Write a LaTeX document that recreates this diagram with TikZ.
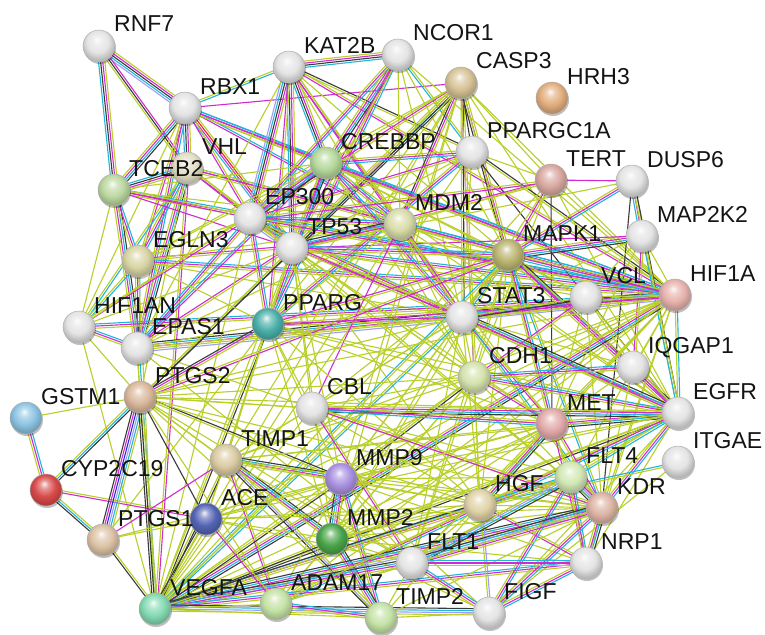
\documentclass[tikz,border=0pt]{standalone}
\usepackage{fontspec}
\setmainfont{Liberation Sans}
\usetikzlibrary{calc,shadows}
\pgfdeclarelayer{bg}
\pgfdeclarelayer{edges}
\pgfsetlayers{bg,edges,main}
\makeatletter
\pgfdeclareradialshading[tikz@ball]{sball}{\pgfqpoint{-3bp}{10bp}}{%
 color(0bp)=(tikz@ball!8!white);
 color(7bp)=(tikz@ball!60!white);
 color(17bp)=(tikz@ball);
 color(26bp)=(tikz@ball!82!black);
 color(50bp)=(tikz@ball!65!black)}
\makeatother
\definecolor{tm}{HTML}{B9CF2A}
\definecolor{ex}{HTML}{D02BD0}
\definecolor{db}{HTML}{22B5DA}
\definecolor{co}{HTML}{3A3A3A}
\definecolor{hm}{HTML}{9E9EF5}
\definecolor{cr}{HTML}{2B2BD6}
\definecolor{fu}{HTML}{E02828}
\definecolor{wh}{HTML}{E4E4E4}
\definecolor{cVHL}{HTML}{E2DEC4}
\definecolor{cCASP3}{HTML}{D6C296}
\definecolor{cHRH3}{HTML}{E2AE7E}
\definecolor{cCREBBP}{HTML}{B4D89A}
\definecolor{cTERT}{HTML}{D8A8A0}
\definecolor{cTCEB2}{HTML}{BCD8A0}
\definecolor{cMDM2}{HTML}{D8DCA8}
\definecolor{cEGLN3}{HTML}{D8D4A4}
\definecolor{cMAPK1}{HTML}{BAB470}
\definecolor{cHIF1A}{HTML}{E6B2AC}
\definecolor{cPPARG}{HTML}{4AAFA8}
\definecolor{cCDH1}{HTML}{D4E2AC}
\definecolor{cGSTM1}{HTML}{8CC4E2}
\definecolor{cPTGS2}{HTML}{DAB89C}
\definecolor{cMET}{HTML}{E2AAAA}
\definecolor{cTIMP1}{HTML}{DACBA2}
\definecolor{cMMP9}{HTML}{A890E0}
\definecolor{cFLT4}{HTML}{D2E8B4}
\definecolor{cCYP}{HTML}{D84A4A}
\definecolor{cACE}{HTML}{5464B4}
\definecolor{cHGF}{HTML}{E0D2A8}
\definecolor{cKDR}{HTML}{DCB4A4}
\definecolor{cPTGS1}{HTML}{DCC2A4}
\definecolor{cMMP2}{HTML}{48A448}
\definecolor{cVEGFA}{HTML}{84DAB2}
\definecolor{cADAM17}{HTML}{C4E2A6}
\definecolor{cTIMP2}{HTML}{C4E2A6}
\tikzset{
 prot/.style={circle, minimum size=32pt, inner sep=0pt, ball color=#1, shading=sball,
   draw=black!30, line width=0.5pt,
   drop shadow={shadow xshift=1pt, shadow yshift=-2pt, opacity=0.25, fill=black}},
 lab/.style={anchor=base west, inner sep=0pt, text=black!92,
   font=\fontsize{23}{27}\selectfont},
 edgeline/.style={line width=1.1pt}
}
\newcommand\Pn[4]{%
 \node[prot=#4] (#1) at (#2,#3) {};
 \node[lab] (l#1) at ($(#1)+(15,-14)$) {#1};}
\newcommand\E[3]{%
 \foreach \c [count=\i] in {#3}{%
  \pgfmathsetmacro\o{ifthenelse(mod(\i,2)==0,1,-1)*floor(\i/2)*2.1}%
  \draw[edgeline, draw=\c] ($(#1)!\o pt!90:(#2)$) -- ($(#2)!\o pt!-90:(#1)$);
 }}
\begin{document}
\begin{tikzpicture}[x=1pt,y=-1pt]
\begin{pgfonlayer}{bg}
\fill[white] (0,0) rectangle (765,634);
\end{pgfonlayer}
\useasboundingbox (0,0) rectangle (765,634);
% ---------------- nodes ----------------
\Pn{RNF7}{99}{46}{wh}
\Pn{RBX1}{185}{108}{wh}
\Pn{VHL}{187}{168}{cVHL}
\Pn{KAT2B}{289}{67}{wh}
\Pn{NCOR1}{398}{55}{wh}
\Pn{CASP3}{461}{83}{cCASP3}
\Pn{HRH3}{552}{98}{cHRH3}
\Pn{CREBBP}{326}{163}{cCREBBP}
\Pn{PPARGC1A}{472}{152}{wh}
\Pn{TERT}{551}{180}{cTERT}
\Pn{DUSP6}{632}{181}{wh}
\Pn{TCEB2}{114}{190}{cTCEB2}
\Pn{EP300}{250}{218}{wh}
\Pn{MDM2}{400}{224}{cMDM2}
\Pn{MAP2K2}{642}{236}{wh}
\Pn{TP53}{292}{248}{wh}
\Pn{EGLN3}{138}{261}{cEGLN3}
\Pn{MAPK1}{508}{255}{cMAPK1}
\Pn{HIF1A}{675}{295}{cHIF1A}
\Pn{VCL}{586}{297}{wh}
\Pn{HIF1AN}{79}{327}{wh}
\Pn{PPARG}{268}{324}{cPPARG}
\Pn{STAT3}{462}{317}{wh}
\Pn{EPAS1}{137}{348}{wh}
\Pn{IQGAP1}{633}{367}{wh}
\Pn{CDH1}{474}{377}{cCDH1}
\Pn{GSTM1}{26}{418}{cGSTM1}
\Pn{PTGS2}{140}{397}{cPTGS2}
\Pn{CBL}{312}{408}{wh}
\Pn{MET}{552}{424}{cMET}
\Pn{EGFR}{678}{413}{wh}
\Pn{TIMP1}{226}{460}{cTIMP1}
\Pn{MMP9}{341}{479}{cMMP9}
\Pn{FLT4}{571}{477}{cFLT4}
\Pn{ITGAE}{678}{462}{wh}
\Pn{CYP2C19}{46}{490}{cCYP}
\Pn{ACE}{206}{519}{cACE}
\Pn{HGF}{480}{505}{cHGF}
\Pn{KDR}{602}{508}{cKDR}
\Pn{PTGS1}{103}{540}{cPTGS1}
\Pn{MMP2}{332}{539}{cMMP2}
\Pn{NRP1}{586}{563}{wh}
\Pn{FLT1}{412}{563}{wh}
\Pn{VEGFA}{155}{609}{cVEGFA}
\Pn{ADAM17}{276}{604}{cADAM17}
\Pn{FIGF}{489}{613}{wh}
\Pn{TIMP2}{381}{618}{cTIMP2}
% ---------------- edges ----------------
\begin{pgfonlayer}{edges}
% VHL / hypoxia cluster
\E{RNF7}{RBX1}{co,ex,db,tm,hm}
\E{RNF7}{TCEB2}{co,ex,db,tm}
\E{RNF7}{VHL}{co,ex,tm}
\E{RBX1}{VHL}{co,ex,db,tm}
\E{RBX1}{TCEB2}{ex,db,tm,co}
\E{RBX1}{EGLN3}{tm,ex}
\E{RBX1}{TP53}{ex,fu,db,tm}
\E{RBX1}{EP300}{ex,tm}
\E{RBX1}{KAT2B}{db,tm}
\E{RBX1}{CREBBP}{ex,db,tm}
\E{RBX1}{MDM2}{ex,db}
\E{RBX1}{EPAS1}{ex,db,tm}
\E{RBX1}{HIF1A}{ex,db,tm}
\E{RBX1}{HIF1AN}{tm}
\E{RBX1}{CASP3}{ex}
\E{VHL}{TCEB2}{co,ex,db,tm}
\E{VHL}{HIF1A}{ex,db,tm}
\E{VHL}{EPAS1}{ex,db,tm,co}
\E{VHL}{EGLN3}{ex,db,tm}
\E{VHL}{TP53}{ex,tm}
\E{VHL}{EP300}{ex,tm}
\E{VHL}{VEGFA}{tm,ex}
\E{VHL}{HIF1AN}{tm,db}
\E{VHL}{PTGS2}{tm}
\E{VHL}{MDM2}{ex,tm}
\E{TCEB2}{EPAS1}{ex,db,tm,co}
\E{TCEB2}{HIF1A}{ex,db,tm}
\E{TCEB2}{EGLN3}{ex,db,tm}
\E{TCEB2}{HIF1AN}{tm}
\E{TCEB2}{TP53}{ex}
\E{TCEB2}{EP300}{ex,tm}
\E{TCEB2}{MDM2}{tm}
\E{EGLN3}{HIF1A}{ex,db,tm}
\E{EGLN3}{EPAS1}{ex,db,tm}
\E{EGLN3}{HIF1AN}{tm,db}
\E{EGLN3}{VEGFA}{tm}
\E{EGLN3}{TP53}{tm,ex}
\E{EGLN3}{EP300}{tm}
\E{EGLN3}{MDM2}{tm}
\E{EGLN3}{STAT3}{tm}
\E{HIF1AN}{HIF1A}{ex,db,tm}
\E{HIF1AN}{EPAS1}{ex,db,tm}
\E{HIF1AN}{EP300}{ex,tm}
\E{HIF1AN}{CREBBP}{tm}
\E{HIF1AN}{VEGFA}{tm}
\E{HIF1AN}{PTGS2}{tm}
\E{HIF1AN}{TP53}{tm}
\E{EPAS1}{HIF1A}{ex,db,tm,co,hm}
\E{EPAS1}{EP300}{ex,db,tm}
\E{EPAS1}{CREBBP}{ex,db}
\E{EPAS1}{VEGFA}{tm,db}
\E{EPAS1}{PPARG}{tm}
\E{EPAS1}{KDR}{tm}
\E{EPAS1}{FLT1}{tm}
\E{EPAS1}{STAT3}{tm}
\E{EPAS1}{TP53}{tm,ex}
\E{EPAS1}{MDM2}{tm}
% KAT2B / NCOR1
\E{KAT2B}{NCOR1}{co,ex,db,tm}
\E{KAT2B}{EP300}{co,ex,db,tm,hm}
\E{KAT2B}{CREBBP}{co,ex,db,tm}
\E{KAT2B}{TP53}{co,ex,db,tm}
\E{KAT2B}{MDM2}{ex,tm}
\E{KAT2B}{PPARG}{ex,tm}
\E{KAT2B}{STAT3}{ex,tm}
\E{KAT2B}{HIF1A}{ex,tm}
\E{KAT2B}{EPAS1}{tm}
\E{KAT2B}{PPARGC1A}{tm,co}
\E{KAT2B}{MAPK1}{tm}
\E{KAT2B}{CDH1}{tm}
\E{NCOR1}{EP300}{ex,db,tm}
\E{NCOR1}{CREBBP}{ex,db,tm,co}
\E{NCOR1}{PPARG}{ex,db,tm}
\E{NCOR1}{TP53}{ex,tm}
\E{NCOR1}{PPARGC1A}{db,tm}
\E{NCOR1}{STAT3}{tm}
\E{NCOR1}{HIF1A}{tm}
\E{NCOR1}{MDM2}{tm}
\E{NCOR1}{MAPK1}{tm}
% CASP3
\E{CASP3}{TP53}{ex,db,tm,co}
\E{CASP3}{MDM2}{ex,tm,co}
\E{CASP3}{MAPK1}{ex,tm,co}
\E{CASP3}{STAT3}{tm,co}
\E{CASP3}{CDH1}{ex,tm}
\E{CASP3}{MMP9}{tm}
\E{CASP3}{MMP2}{tm}
\E{CASP3}{VEGFA}{tm}
\E{CASP3}{PTGS2}{tm,co}
\E{CASP3}{EGFR}{tm}
\E{CASP3}{MET}{tm}
\E{CASP3}{HGF}{tm}
\E{CASP3}{PPARG}{tm}
\E{CASP3}{EP300}{ex,tm}
\E{CASP3}{HIF1A}{tm}
\E{CASP3}{TERT}{tm}
\E{CASP3}{CREBBP}{tm}
\E{CASP3}{TIMP1}{tm}
\E{CASP3}{EGLN3}{tm}
\E{CASP3}{PPARGC1A}{co}
% PPARGC1A
\E{PPARGC1A}{PPARG}{ex,db,tm}
\E{PPARGC1A}{EP300}{ex,tm}
\E{PPARGC1A}{CREBBP}{ex,db,tm}
\E{PPARGC1A}{TP53}{tm}
\E{PPARGC1A}{HIF1A}{tm,co}
\E{PPARGC1A}{MAPK1}{tm}
\E{PPARGC1A}{VEGFA}{tm}
\E{PPARGC1A}{STAT3}{tm}
\E{PPARGC1A}{TERT}{tm}
\E{PPARGC1A}{EGFR}{co}
% CREBBP
\E{CREBBP}{EP300}{ex,db,tm,co,hm}
\E{CREBBP}{TP53}{ex,db,tm,co}
\E{CREBBP}{MDM2}{ex,db,tm}
\E{CREBBP}{HIF1A}{ex,db,tm}
\E{CREBBP}{STAT3}{ex,db,tm}
\E{CREBBP}{PPARG}{ex,db,tm}
\E{CREBBP}{MAPK1}{tm}
\E{CREBBP}{TCEB2}{tm}
\E{CREBBP}{EGLN3}{tm}
\E{CREBBP}{CDH1}{tm}
\E{CREBBP}{VCL}{tm}
\E{CREBBP}{EGFR}{tm}
% TERT / DUSP6 / MAP2K2
\E{TERT}{TP53}{ex,tm}
\E{TERT}{MDM2}{tm}
\E{TERT}{MAPK1}{ex,tm}
\E{TERT}{HIF1A}{tm}
\E{TERT}{VEGFA}{tm}
\E{TERT}{STAT3}{tm}
\E{TERT}{DUSP6}{ex}
\E{TERT}{EGFR}{tm}
\E{TERT}{MET}{co}
\E{TERT}{CDH1}{tm}
\E{TERT}{EP300}{tm,ex}
\E{DUSP6}{MAPK1}{ex,db,tm}
\E{DUSP6}{MAP2K2}{ex,tm,db}
\E{DUSP6}{EGFR}{tm,co}
\E{DUSP6}{KDR}{co}
\E{DUSP6}{TP53}{tm}
\E{MAP2K2}{MAPK1}{ex,db,tm,co}
\E{MAP2K2}{EGFR}{db,tm}
\E{MAP2K2}{MET}{tm}
\E{MAP2K2}{HIF1A}{tm}
\E{MAP2K2}{STAT3}{tm}
\E{MAP2K2}{TP53}{ex}
\E{MAP2K2}{VCL}{tm}
\E{MAP2K2}{IQGAP1}{ex,tm}
% EP300
\E{EP300}{TP53}{ex,db,tm,co,hm}
\E{EP300}{MDM2}{ex,db,tm}
\E{EP300}{HIF1A}{ex,db,tm}
\E{EP300}{STAT3}{ex,db,tm}
\E{EP300}{PPARG}{ex,db,tm}
\E{EP300}{MAPK1}{tm}
\E{EP300}{EGLN3}{tm}
\E{EP300}{CDH1}{tm}
\E{EP300}{VEGFA}{tm}
\E{EP300}{EGFR}{tm}
\E{EP300}{KDR}{tm}
% TP53
\E{TP53}{MDM2}{ex,db,tm,co}
\E{TP53}{HIF1A}{ex,db,tm}
\E{TP53}{STAT3}{ex,tm}
\E{TP53}{MAPK1}{ex,db,tm}
\E{TP53}{PPARG}{tm}
\E{TP53}{CDH1}{tm}
\E{TP53}{VEGFA}{tm}
\E{TP53}{EGFR}{tm,ex}
\E{TP53}{MMP2}{tm}
\E{TP53}{MMP9}{tm}
\E{TP53}{PTGS2}{tm,co}
\E{TP53}{CBL}{tm}
\E{TP53}{MET}{tm}
\E{TP53}{TIMP1}{tm}
\E{TP53}{HGF}{tm}
\E{TP53}{VCL}{tm}
\E{TP53}{KDR}{tm}
% MDM2
\E{MDM2}{HIF1A}{ex,db,tm}
\E{MDM2}{MAPK1}{tm}
\E{MDM2}{STAT3}{tm,ex}
\E{MDM2}{VEGFA}{tm}
\E{MDM2}{EGFR}{tm}
\E{MDM2}{PPARG}{tm}
\E{MDM2}{CDH1}{tm}
\E{MDM2}{MET}{tm}
\E{MDM2}{CBL}{ex}
\E{MDM2}{VCL}{tm}
% MAPK1
\E{MAPK1}{HIF1A}{ex,tm,db}
\E{MAPK1}{STAT3}{ex,db,tm}
\E{MAPK1}{EGFR}{ex,db,tm,co}
\E{MAPK1}{MET}{ex,db,tm}
\E{MAPK1}{VCL}{tm}
\E{MAPK1}{IQGAP1}{ex,tm}
\E{MAPK1}{CDH1}{tm}
\E{MAPK1}{VEGFA}{db,tm}
\E{MAPK1}{KDR}{db,tm}
\E{MAPK1}{PPARG}{ex,tm}
\E{MAPK1}{PTGS2}{tm,ex}
\E{MAPK1}{HGF}{tm}
\E{MAPK1}{MMP9}{tm}
\E{MAPK1}{MMP2}{tm}
\E{MAPK1}{FLT1}{tm}
\E{MAPK1}{CBL}{tm}
% HIF1A
\E{HIF1A}{STAT3}{ex,tm,db}
\E{HIF1A}{VEGFA}{ex,db,tm,co}
\E{HIF1A}{EGFR}{tm,db}
\E{HIF1A}{MET}{tm}
\E{HIF1A}{CDH1}{tm}
\E{HIF1A}{PTGS2}{tm}
\E{HIF1A}{MMP9}{tm}
\E{HIF1A}{MMP2}{tm}
\E{HIF1A}{KDR}{tm}
\E{HIF1A}{FLT1}{tm}
\E{HIF1A}{HGF}{tm}
\E{HIF1A}{PPARG}{tm,ex}
\E{HIF1A}{TIMP1}{tm}
\E{HIF1A}{ACE}{tm}
\E{HIF1A}{VCL}{tm}
\E{HIF1A}{FLT4}{tm}
\E{HIF1A}{NRP1}{tm}
\E{HIF1A}{IQGAP1}{tm}
\E{HIF1A}{ADAM17}{tm}
% VCL
\E{VCL}{EGFR}{tm}
\E{VCL}{CDH1}{ex,tm}
\E{VCL}{MET}{tm}
\E{VCL}{IQGAP1}{tm}
\E{VCL}{STAT3}{tm,co}
\E{VCL}{KDR}{tm}
% STAT3
\E{STAT3}{EGFR}{ex,db,tm,co}
\E{STAT3}{MET}{ex,tm}
\E{STAT3}{VEGFA}{tm,db}
\E{STAT3}{PPARG}{ex,tm}
\E{STAT3}{PTGS2}{tm}
\E{STAT3}{MMP9}{tm}
\E{STAT3}{MMP2}{tm}
\E{STAT3}{KDR}{tm,db}
\E{STAT3}{CDH1}{tm}
\E{STAT3}{HGF}{tm}
\E{STAT3}{CBL}{tm}
\E{STAT3}{TIMP1}{tm}
\E{STAT3}{FLT1}{tm}
\E{STAT3}{IQGAP1}{tm}
% PPARG
\E{PPARG}{PTGS2}{ex,tm,co}
\E{PPARG}{VEGFA}{tm,co}
\E{PPARG}{MMP9}{tm}
\E{PPARG}{MMP2}{tm}
\E{PPARG}{EGFR}{tm}
\E{PPARG}{TIMP1}{tm}
\E{PPARG}{CDH1}{tm}
\E{PPARG}{ACE}{tm}
\E{PPARG}{MET}{tm}
\E{PPARG}{HGF}{tm}
\E{PPARG}{PTGS1}{tm}
\E{PPARG}{EGLN3}{tm}
% CDH1 / IQGAP1
\E{CDH1}{EGFR}{ex,db,tm}
\E{CDH1}{MET}{ex,tm}
\E{CDH1}{MMP9}{tm,co}
\E{CDH1}{MMP2}{tm}
\E{CDH1}{VEGFA}{tm}
\E{CDH1}{HGF}{tm}
\E{CDH1}{IQGAP1}{ex,db,tm}
\E{CDH1}{CBL}{tm}
\E{CDH1}{PTGS2}{tm}
\E{CDH1}{TIMP1}{tm}
\E{CDH1}{ADAM17}{tm}
\E{CDH1}{KDR}{tm}
\E{CDH1}{FLT1}{tm}
\E{IQGAP1}{EGFR}{ex,tm}
\E{IQGAP1}{MET}{tm}
\E{IQGAP1}{KDR}{tm}
% GSTM1 / CYP2C19 / PTGS
\E{GSTM1}{CYP2C19}{ex,db,tm}
\E{GSTM1}{PTGS2}{tm}
\E{CYP2C19}{PTGS2}{db,tm,co}
\E{CYP2C19}{PTGS1}{db,tm,co}
\E{CYP2C19}{ACE}{ex,tm}
\E{PTGS2}{PTGS1}{cr,hm,ex,db,co,tm}
\E{PTGS2}{VEGFA}{co,tm,co}
\E{PTGS2}{ACE}{co}
\E{PTGS2}{TIMP1}{tm}
\E{PTGS2}{MMP9}{tm,co}
\E{PTGS2}{MMP2}{tm}
\E{PTGS2}{EGFR}{tm}
\E{PTGS2}{MET}{tm}
\E{PTGS2}{CBL}{tm}
\E{PTGS2}{KDR}{tm}
\E{PTGS2}{HGF}{tm}
\E{PTGS2}{FLT1}{tm}
\E{PTGS2}{ADAM17}{tm}
\E{PTGS2}{TIMP2}{tm}
\E{PTGS2}{EPAS1}{tm}
\E{PTGS1}{VEGFA}{co,tm}
\E{PTGS1}{ACE}{tm}
\E{PTGS1}{MMP9}{tm}
\E{PTGS1}{TIMP1}{ex}
% EGFR
\E{EGFR}{MET}{ex,db,tm,co}
\E{EGFR}{VEGFA}{tm,co}
\E{EGFR}{KDR}{ex,db,tm}
\E{EGFR}{CBL}{ex,db,tm,co}
\E{EGFR}{FLT4}{tm,db}
\E{EGFR}{FLT1}{tm}
\E{EGFR}{HGF}{tm}
\E{EGFR}{MMP9}{tm}
\E{EGFR}{MMP2}{tm}
\E{EGFR}{ADAM17}{ex,db,tm}
\E{EGFR}{NRP1}{tm}
\E{EGFR}{TIMP1}{tm}
\E{EGFR}{FIGF}{tm}
\E{ITGAE}{HGF}{db,tm}
\E{ITGAE}{FIGF}{tm}
% MET
\E{MET}{HGF}{ex,db,tm,co}
\E{MET}{VEGFA}{tm}
\E{MET}{KDR}{tm,ex}
\E{MET}{CBL}{ex,db,tm}
\E{MET}{FLT4}{tm}
\E{MET}{FLT1}{tm}
\E{MET}{MMP9}{tm}
\E{MET}{MMP2}{tm}
\E{MET}{NRP1}{ex,tm}
\E{MET}{TIMP1}{tm}
\E{MET}{ADAM17}{tm}
% CBL
\E{CBL}{KDR}{ex,tm}
\E{CBL}{VEGFA}{tm}
\E{CBL}{FLT1}{ex,tm}
\E{CBL}{HGF}{tm}
\E{CBL}{TIMP1}{tm}
\E{CBL}{PPARG}{tm}
\E{CBL}{FLT4}{tm}
% TIMP1 / MMPs
\E{TIMP1}{MMP9}{ex,db,tm,co}
\E{TIMP1}{MMP2}{ex,db,tm,co}
\E{TIMP1}{TIMP2}{hm,tm,co}
\E{TIMP1}{VEGFA}{tm,co}
\E{TIMP1}{ACE}{tm}
\E{TIMP1}{ADAM17}{ex,tm}
\E{TIMP1}{HGF}{tm}
\E{TIMP1}{KDR}{tm}
\E{TIMP1}{FLT1}{tm}
\E{MMP9}{MMP2}{hm,ex,db,tm,co}
\E{MMP9}{VEGFA}{tm,co}
\E{MMP9}{TIMP2}{ex,db,tm}
\E{MMP9}{ACE}{tm}
\E{MMP9}{HGF}{tm}
\E{MMP9}{KDR}{tm}
\E{MMP9}{FLT1}{tm}
\E{MMP9}{ADAM17}{tm}
\E{MMP9}{FIGF}{tm}
\E{MMP9}{FLT4}{tm}
\E{MMP9}{NRP1}{tm}
\E{MMP2}{VEGFA}{tm,co}
\E{MMP2}{TIMP2}{ex,db,tm,co}
\E{MMP2}{ACE}{tm}
\E{MMP2}{HGF}{tm}
\E{MMP2}{KDR}{tm}
\E{MMP2}{FLT1}{tm}
\E{MMP2}{ADAM17}{tm}
\E{MMP2}{FIGF}{tm}
\E{MMP2}{FLT4}{tm}
\E{MMP2}{NRP1}{tm}
% VEGFA
\E{VEGFA}{KDR}{ex,db,tm,co,hm}
\E{VEGFA}{FLT1}{ex,db,tm,co}
\E{VEGFA}{FLT4}{ex,db,tm}
\E{VEGFA}{NRP1}{ex,db,tm}
\E{VEGFA}{FIGF}{hm,db,tm,co}
\E{VEGFA}{HGF}{tm,co}
\E{VEGFA}{ACE}{tm,co}
\E{VEGFA}{ADAM17}{tm}
\E{VEGFA}{TIMP2}{tm}
% ACE / HGF
\E{ACE}{HGF}{tm}
\E{ACE}{KDR}{tm}
\E{ACE}{FLT1}{tm}
\E{ACE}{ADAM17}{ex,tm}
\E{ACE}{MET}{tm}
\E{ACE}{EGFR}{tm}
\E{HGF}{KDR}{tm}
\E{HGF}{FLT1}{tm}
\E{HGF}{FLT4}{tm}
\E{HGF}{NRP1}{ex,tm}
\E{HGF}{FIGF}{tm,hm}
\E{HGF}{TIMP2}{tm}
\E{HGF}{ADAM17}{tm}
% receptors
\E{FLT4}{KDR}{hm,ex,db,tm,co}
\E{FLT4}{FLT1}{hm,db,tm,co}
\E{FLT4}{NRP1}{ex,db,tm}
\E{FLT4}{FIGF}{ex,db,tm}
\E{KDR}{FLT1}{hm,ex,db,tm,co}
\E{KDR}{NRP1}{ex,db,tm,co}
\E{KDR}{FIGF}{ex,db,tm}
\E{KDR}{ADAM17}{tm}
\E{KDR}{TIMP2}{tm}
\E{FLT1}{NRP1}{ex,db,tm}
\E{FLT1}{FIGF}{ex,db,tm}
\E{FLT1}{TIMP2}{tm}
\E{FLT1}{ADAM17}{tm}
\E{NRP1}{FIGF}{ex,db,tm}
\E{ADAM17}{TIMP2}{ex,db,tm}
\E{TIMP2}{FIGF}{tm}
\end{pgfonlayer}
\end{tikzpicture}
\end{document}
